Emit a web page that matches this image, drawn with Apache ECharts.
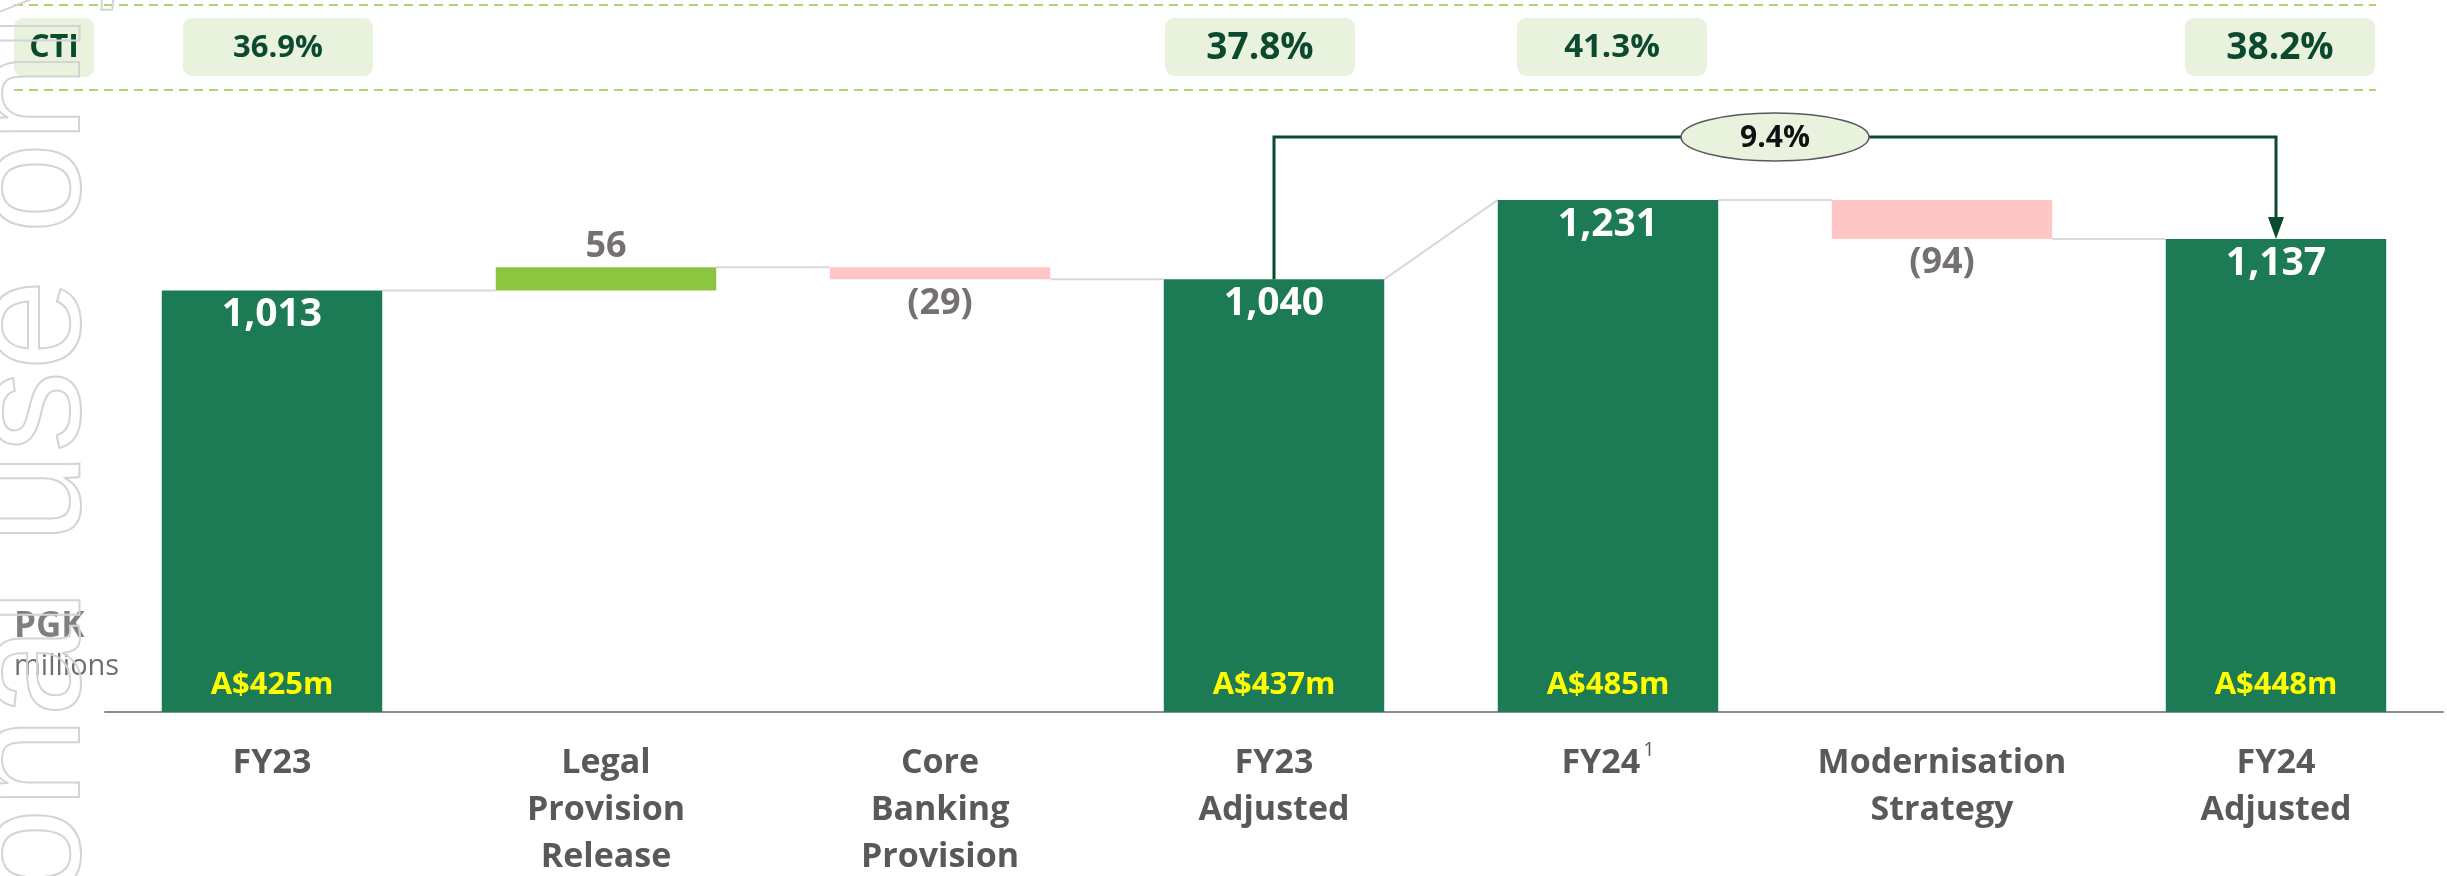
<!DOCTYPE html>
<html>
<head>
<meta charset="utf-8">
<script src="https://cdn.jsdelivr.net/npm/echarts@6/dist/echarts.min.js"></script>
<style>
  html, body { margin: 0; padding: 0; background: #ffffff; }
  #chart { width: 2447px; height: 876px; }
</style>
</head>
<body>
<div id="chart"></div>
<script>
// ---------------- data ----------------
const categories = ['FY23', 'Legal\nProvision\nRelease', 'Core\nBanking\nProvision', 'FY23\nAdjusted', 'FY24', 'Modernisation\nStrategy', 'FY24\nAdjusted'];
const footnoteMarks = ['', '', '', '', '1', '', ''];
const stepValues = [1013, 56, -29, 1040, 1231, -94, 1137];
const stepKinds = ['total', 'delta', 'delta', 'total', 'total', 'delta', 'total'];
const audLabels = ['A$425m', '', '', 'A$437m', 'A$485m', '', 'A$448m'];
const ctiLabels = ['36.9%', '', '', '37.8%', '41.3%', '', '38.2%'];
const ctiTitle = 'CTI';
const growthLabel = '9.4%';
const growthFrom = 3;
const growthTo = 6;
const unitTitle = 'PGK';
const unitSub = 'millions';
const watermarkText = 'For personal use only';

// ---------------- styles / layout ----------------
const FONT = '"Open Sans", "Noto Sans", sans-serif';
const C_TOTAL = '#1c7a55';
const C_UP = '#8cc53f';
const C_DOWN = '#ffc6c6';
const C_DARK = '#0c4a30';
const C_BOX = '#e8f2dc';
const ctiFontSizes = [31, 0, 0, 37, 33, 0, 37];
const ctiShift = [6, 0, 0, -14, 4, 0, 4];
const BAR_RATIO = 0.66;
const bracketY = 137;

// ---------------- waterfall derivation ----------------
const bases = [], heights = [], startLevel = [], endLevel = [];
let running = 0;
stepValues.forEach((v, i) => {
  if (stepKinds[i] === 'total') {
    bases.push(0); heights.push(v); startLevel.push(v); endLevel.push(v); running = v;
  } else if (v >= 0) {
    bases.push(running); heights.push(v); startLevel.push(running); endLevel.push(running + v); running += v;
  } else {
    bases.push(running + v); heights.push(-v); startLevel.push(running); endLevel.push(running + v); running += v;
  }
});
const fmt = v => (v < 0 ? '(' + Math.abs(v).toLocaleString('en-US') + ')' : v.toLocaleString('en-US'));

const visData = stepValues.map((v, i) => {
  const total = stepKinds[i] === 'total';
  return {
    value: heights[i],
    itemStyle: { color: total ? C_TOTAL : (v >= 0 ? C_UP : C_DOWN) },
    label: total
      ? { position: 'insideTop', distance: 5, color: '#ffffff', fontSize: 39 }
      : { position: v >= 0 ? 'top' : 'bottom', distance: v >= 0 ? 3 : 6, color: '#767171', fontSize: 36 }
  };
});
const audData = stepValues.map((v, i) => (audLabels[i] ? heights[i] : '-'));

const chart = echarts.init(document.getElementById('chart'), null, { renderer: 'canvas' });

const option = {
  backgroundColor: '#ffffff',
  animation: false,
  textStyle: { fontFamily: FONT },
  grid: { left: 105, right: 4, top: 88, bottom: 164, containLabel: false },
  xAxis: {
    type: 'category',
    data: categories,
    axisLine: { lineStyle: { color: '#8c8c8c', width: 2 } },
    axisTick: { show: false },
    axisLabel: {
      interval: 0,
      margin: 28,
      formatter: (val, idx) => footnoteMarks[idx] ? '{c|' + val + '}{s|' + footnoteMarks[idx] + '}' : '{c|' + val + '}',
      rich: {
        c: { fontSize: 34, fontWeight: 'bold', color: '#595959', lineHeight: 47, fontFamily: FONT },
        s: { fontSize: 20, color: '#595959', verticalAlign: 'top', lineHeight: 20, padding: [0, 0, 26, 3], fontFamily: FONT }
      }
    }
  },
  yAxis: { type: 'value', min: 0, max: 1500, show: false, splitLine: { show: false } },
  series: [
    {
      name: 'base', type: 'bar', stack: 'w', barWidth: (BAR_RATIO * 100) + '%', barGap: '-100%',
      itemStyle: { color: 'rgba(0,0,0,0)' }, silent: true, data: bases
    },
    {
      name: 'value', type: 'bar', stack: 'w', barWidth: (BAR_RATIO * 100) + '%', barGap: '-100%',
      data: visData,
      label: {
        show: true, fontSize: 36, fontWeight: 'bold', fontFamily: FONT,
        formatter: p => fmt(stepValues[p.dataIndex])
      },
      z: 3
    },
    {
      name: 'aud', type: 'bar', barWidth: (BAR_RATIO * 100) + '%', barGap: '-100%',
      itemStyle: { color: 'rgba(0,0,0,0)' }, silent: true, data: audData,
      label: {
        show: true, position: 'insideBottom', distance: 11, color: '#ffff00', fontSize: 31, fontWeight: 'bold', fontFamily: FONT,
        formatter: p => audLabels[p.dataIndex]
      },
      z: 4
    },
    {
      name: 'connectors', type: 'custom', clip: false, silent: true, z: 2,
      data: stepValues.slice(0, -1).map((v, i) => [i]),
      encode: { x: 0 },
      renderItem: (params, api) => {
        const i = params.dataIndex;
        const half = api.size([1, 0])[0] * BAR_RATIO / 2;
        const p1 = api.coord([i, endLevel[i]]);
        const p2 = api.coord([i + 1, startLevel[i + 1]]);
        return { type: 'line', shape: { x1: p1[0] + half, y1: p1[1], x2: p2[0] - half, y2: p2[1] },
                 style: { stroke: '#d9d9d9', lineWidth: 2 } };
      }
    },
    {
      name: 'cti', type: 'custom', clip: false, silent: true, z: 5,
      data: ctiLabels.map((t, i) => [i]).filter(d => ctiLabels[d[0]]),
      encode: { x: 0 },
      renderItem: (params, api) => {
        const i = api.value(0);
        const x = api.coord([i, 0])[0] + ctiShift[i];
        return {
          type: 'group',
          children: [
            { type: 'rect', shape: { x: x - 95, y: 18, width: 190, height: 58, r: 9 }, style: { fill: C_BOX } },
            { type: 'text', style: { x: x, y: 48, text: ctiLabels[i], fill: C_DARK, align: 'center', verticalAlign: 'middle',
              font: 'bold ' + ctiFontSizes[i] + 'px ' + FONT } }
          ]
        };
      }
    },
    {
      name: 'growth', type: 'custom', clip: false, silent: true, z: 6,
      data: [[growthFrom]],
      encode: { x: 0 },
      renderItem: (params, api) => {
        const a = api.coord([growthFrom, endLevel[growthFrom]]);
        const b = api.coord([growthTo, endLevel[growthTo]]);
        const y = bracketY;
        const mid = (a[0] + b[0]) / 2;
        const ah = 22, aw = 8;
        return {
          type: 'group',
          children: [
            { type: 'polyline', shape: { points: [[a[0], a[1]], [a[0], y], [b[0], y], [b[0], b[1] - ah]] },
              style: { stroke: C_DARK, lineWidth: 3, fill: null } },
            { type: 'polygon', shape: { points: [[b[0] - aw, b[1] - ah], [b[0] + aw, b[1] - ah], [b[0], b[1]]] },
              style: { fill: C_DARK } },
            { type: 'ellipse', shape: { cx: mid, cy: y, rx: 94, ry: 24 },
              style: { fill: '#e8f2dc', stroke: '#595959', lineWidth: 1.5 } },
            { type: 'text', style: { x: mid, y: y + 1, text: growthLabel, fill: '#111111', align: 'center', verticalAlign: 'middle',
              font: 'bold 30px ' + FONT } }
          ]
        };
      }
    }
  ],
  graphic: [
    { type: 'line', z: 1, shape: { x1: 14, y1: 5, x2: 2376, y2: 5 }, style: { stroke: '#a8d672', lineWidth: 2, lineDash: [9, 6] } },
    { type: 'line', z: 1, shape: { x1: 14, y1: 90, x2: 2376, y2: 90 }, style: { stroke: '#a8d672', lineWidth: 2, lineDash: [9, 6] } },
    { type: 'rect', z: 2, shape: { x: 14, y: 18, width: 80, height: 59, r: 9 }, style: { fill: C_BOX } },
    { type: 'text', z: 3, style: { x: 54, y: 48, text: ctiTitle, fill: C_DARK, align: 'center', verticalAlign: 'middle',
      textAlign: 'center', textVerticalAlign: 'middle', font: 'bold 32px ' + FONT } },
    { type: 'text', z: 3, style: { x: 14, y: 627, text: unitTitle, fill: '#7f7f7f', align: 'left', verticalAlign: 'middle',
      textAlign: 'left', textVerticalAlign: 'middle', font: 'bold 35px ' + FONT } },
    { type: 'text', z: 3, style: { x: 14, y: 667, text: unitSub, fill: '#6f6f6f', align: 'left', verticalAlign: 'middle',
      textAlign: 'left', textVerticalAlign: 'middle', font: '29px ' + FONT } },
    { type: 'text', z: 50, silent: true, x: 116, y: 1510, rotation: Math.PI / 2,
      style: { text: watermarkText, fill: 'rgba(0,0,0,0)', stroke: '#d4d4d4', lineWidth: 2,
        align: 'left', verticalAlign: 'bottom', textAlign: 'left', textVerticalAlign: 'bottom',
        font: '164px "Liberation Sans", Arial, sans-serif' } }
  ]
};
chart.setOption(option);
</script>
</body>
</html>
